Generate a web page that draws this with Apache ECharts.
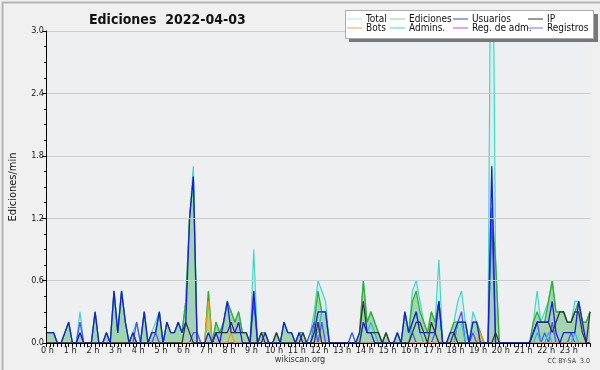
<!DOCTYPE html>
<html><head><meta charset="utf-8">
<script src="https://cdn.jsdelivr.net/npm/echarts@6/dist/echarts.min.js"></script>
<style>html,body{margin:0;padding:0;background:#f0f0f0}#c{width:600px;height:370px}</style>
</head><body><div id="c"></div>
<script>
// 10-minute buckets, values in edits per minute (index 0 = 00:00 ... 144 = 24:00)
const total = [
0.1,0.1,0.1,0,0,0.1, 0.2,0,0,0.3,0,0, 0,0.3,0,0,0.1,0, 0.5,0.1,0.5,0.2,0,0.1,
0.2,0,0.3,0,0.1,0.2, 0.3,0,0.2,0.1,0.1,0.2, 0.1,0.4,1.2,1.7,0.1,0, 0,0.5,0,0.2,0.1,0.2,
0.4,0.3,0.2,0.3,0.1,0.1, 0,0.9,0,0.1,0.1,0, 0,0.1,0,0.2,0.1,0.1, 0,0.1,0.1,0,0.1,0.3,
0.6,0.5,0.4,0,0,0, 0,0,0,0.1,0,0.1, 0.6,0.2,0.3,0.2,0.1,0, 0.1,0,0,0.1,0,0.3,
0.1,0.5,0.6,0.4,0.2,0.1, 0.3,0.2,0.8,0,0,0.1, 0.2,0.4,0.5,0.2,0,0.3, 0.2,0.1,0,0,5.5,0.8,
0,0,0,0,0,0, 0,0,0,0.2,0.5,0.2, 0.3,0.4,0.6,0.3,0.3,0.3, 0.2,0.2,0.4,0.4,0.2,0.2, 0.3];
const ediciones = [
0.1,0.1,0.1,0,0,0.1, 0.2,0,0,0.1,0,0, 0,0.3,0,0,0.1,0, 0.5,0.1,0.5,0.2,0,0.1,
0,0,0.3,0,0.1,0.1, 0.3,0,0.2,0.1,0.1,0.2, 0.1,0.4,1.2,1.6,0,0, 0,0.5,0,0.2,0.1,0.2,
0.4,0.3,0.2,0.3,0.1,0.1, 0,0.5,0,0.1,0.1,0, 0,0.1,0,0.2,0.1,0.1, 0,0.1,0.1,0,0,0.2,
0.5,0.3,0.3,0,0,0, 0,0,0,0,0,0.1, 0.6,0.2,0.3,0.2,0.1,0, 0.1,0,0,0.1,0,0.3,
0.1,0.4,0.5,0.3,0.2,0.1, 0.3,0.2,0.4,0,0,0.1, 0.2,0.2,0.2,0.2,0,0.2, 0.2,0.1,0,0,1.3,0.8,
0,0,0,0,0,0, 0,0,0,0.2,0.3,0.2, 0.2,0.4,0.6,0.3,0.3,0.3, 0.2,0.2,0.3,0.4,0.2,0.2, 0.3];
const usuarios = [
0.1,0.1,0.1,0,0,0.1, 0.2,0,0,0.1,0,0, 0,0.3,0,0,0.1,0, 0.5,0.1,0.5,0.2,0,0.1,
0,0,0.3,0,0.1,0.1, 0.3,0,0.2,0.1,0.1,0.2, 0.1,0.2,1.2,1.6,0,0, 0,0.1,0,0.1,0,0.2,
0.4,0.1,0.1,0.2,0,0, 0,0.5,0,0,0.1,0, 0,0,0,0.2,0.1,0.1, 0,0.1,0,0,0,0.1,
0.3,0.3,0.3,0,0,0, 0,0,0,0,0,0, 0.2,0.1,0.1,0,0,0, 0,0,0,0.1,0,0.3,
0.1,0.2,0.3,0.1,0.1,0.1, 0.1,0.1,0.4,0,0,0.1, 0.1,0.2,0.2,0.2,0,0.2, 0.2,0,0,0,1.7,0,
0,0,0,0,0,0, 0,0,0,0.1,0.2,0.2, 0.2,0.2,0.4,0.1,0,0.1, 0.1,0.1,0.1,0.4,0.2,0, 0];
const ip = [
0,0,0,0,0,0, 0,0,0,0,0,0, 0,0,0,0,0,0, 0,0,0,0,0,0,
0,0,0,0,0,0, 0,0,0,0,0,0, 0,0.2,0.1,0,0,0, 0,0,0,0.1,0.1,0.1,
0.1,0.2,0.1,0.1,0.1,0.1, 0,0,0,0.1,0,0, 0,0.1,0,0,0,0, 0,0,0.1,0,0,0,
0.2,0,0,0,0,0, 0,0,0,0,0,0.1, 0.4,0.1,0.1,0.1,0.1,0, 0.1,0,0,0,0,0,
0,0.1,0.2,0.2,0.1,0, 0.2,0.1,0,0,0,0, 0.1,0,0,0,0,0, 0,0,0,0,0,0.1,
0,0,0,0,0,0, 0,0,0,0.1,0.2,0.2, 0.2,0.2,0.1,0.2,0.3,0.3, 0.2,0.2,0.3,0.3,0.1,0, 0.3];
const bots = [
0,0,0,0,0,0, 0,0,0,0,0,0, 0,0,0,0,0,0, 0,0,0,0,0,0,
0,0,0,0,0,0, 0,0,0,0,0,0, 0,0,0,0,0,0, 0,0.4,0,0,0,0,
0,0.1,0,0,0,0, 0,0,0,0,0,0, 0,0,0,0,0,0, 0,0,0,0,0,0,
0,0,0,0,0,0, 0,0,0,0,0,0, 0,0,0,0,0,0, 0,0,0,0,0,0,
0,0,0,0,0,0, 0,0,0,0,0,0, 0,0,0,0,0,0, 0,0.1,0,0,0,0,
0,0,0,0,0,0, 0,0,0,0,0,0, 0,0,0,0,0,0, 0,0,0,0,0,0, 0];
const admins = [
0.1,0.1,0.1,0,0,0, 0,0,0,0,0,0, 0,0,0,0,0,0, 0,0,0,0,0,0,
0,0,0,0,0,0, 0,0,0,0,0,0, 0,0,0,0,0,0, 0,0,0,0,0,0,
0,0,0,0,0,0, 0,0,0,0,0,0, 0,0,0,0,0,0, 0,0,0,0,0,0.1,
0.1,0.3,0.3,0,0,0, 0,0,0,0,0,0, 0.2,0.1,0.2,0.1,0,0, 0,0,0,0,0,0,
0,0.2,0.3,0.1,0,0, 0,0,0,0,0,0, 0,0.2,0.2,0,0,0, 0,0,0,0,0,0,
0,0,0,0,0,0, 0,0,0,0,0.1,0, 0,0.1,0,0,0,0, 0,0,0.1,0,0,0, 0];
const regAdm = new Array(145).fill(0);
const registros = [
0,0,0,0,0,0, 0,0,0,0.2,0,0, 0,0,0,0,0,0, 0,0,0,0,0,0,
0.2,0,0,0,0,0.1, 0,0,0,0,0,0, 0,0,0,0.1,0.1,0, 0,0,0,0,0,0,
0,0,0,0,0,0, 0,0.4,0,0,0,0, 0,0,0,0,0,0, 0,0,0,0,0.1,0.2,
0,0.2,0,0,0,0, 0,0,0,0.1,0,0, 0,0,0,0,0,0, 0,0,0,0,0,0,
0,0.1,0,0,0,0, 0,0.1,0.4,0,0,0, 0,0.2,0.3,0,0,0.1, 0,0,0,0,1.2,0,
0,0,0,0,0,0, 0,0,0,0.1,0.2,0, 0.1,0,0.2,0,0,0, 0,0.1,0,0,0,0, 0];

const times = [];
for (let i = 0; i <= 144; i++) times.push(Math.floor(i / 6) + ':' + String((i % 6) * 10).padStart(2, '0'));
const yTicks = [0, 0.6, 1.2, 1.8, 2.4, 3.0];

const FONT = 'DejaVu Sans Condensed, DejaVu Sans, sans-serif';
const names = ['Total','Ediciones','Usuarios','IP','Bots','Admins.','Reg. de adm.','Registros'];
const colors = ['#40d8c8','#30b030','#1a1ae6','#333333','#ff9900','#30b8e0','#cc33cc','#5050ff'];
const legendColors = ['#a8e8e0','#90d090','#4040e0','#333333','#f0a040','#50c8e0','#d040e0','#7070f0'];
const dataSets = [total, ediciones, usuarios, ip, bots, admins, regAdm, registros];
const colX = [347, 390, 453, 528];
const rowY = [14, 23];

const legends = names.map((n, k) => ({
  data: [{name: n, itemStyle: {color: legendColors[k]}}],
  left: colX[k % 4], top: rowY[Math.floor(k / 4)],
  padding: 0, itemWidth: 15, itemHeight: 1, icon: 'rect', itemGap: 0,
  selectedMode: false, z: 20,
  textStyle: {fontSize: 10, color: '#111', fontFamily: FONT, padding: [0,0,0,-1]}
}));
const order = [0, 1, 7, 5, 6, 4, 3, 2];
const series = order.map(k => {
  const s = {
    name: names[k], type: 'line', data: dataSets[k], symbol: 'none',
    color: colors[k], lineStyle: {width: 1.3, color: colors[k]}, z: 2 + order.indexOf(k) * 0.01,
    emphasis: {disabled: true}, animation: false
  };
  if (k === 0) { s.areaStyle = {color: 'rgba(64,224,208,0.15)'}; s.lineStyle.width = 1.2; }
  if (k === 1) { s.areaStyle = {color: 'rgba(40,160,40,0.45)'}; }
  return s;
});

const chart = echarts.init(document.getElementById('c'), null, {renderer: 'canvas'});
chart.setOption({
  backgroundColor: '#f0f0f0',
  animation: false,
  title: {text: 'Ediciones  2022-04-03', left: 84, top: 8,
    textStyle: {fontSize: 14, fontWeight: 'bold', color: '#111', fontFamily: FONT}},
  legend: legends,
  grid: {left: 42, right: 10, top: 31, bottom: 27, show: true, backgroundColor: '#eeeff1', borderWidth: 0},
  xAxis: {
    type: 'category', data: times, boundaryGap: false, z: 10,
    axisLine: {lineStyle: {color: '#000', width: 1}},
    axisTick: {show: true, interval: 0, length: 4, lineStyle: {color: '#000'}},
    axisLabel: {interval: 5, fontSize: 9, color: '#222', margin: 3, fontFamily: FONT, padding: [0,0,0,3],
      formatter: (v, i) => i < 144 ? parseInt(v, 10) + ' h' : ''},
    splitLine: {show: false}
  },
  yAxis: {
    type: 'value', min: yTicks[0], max: yTicks[yTicks.length - 1], interval: yTicks[1] - yTicks[0], z: 10,
    name: 'Ediciones/min', nameLocation: 'middle', nameGap: 27, nameRotate: 90,
    nameTextStyle: {fontSize: 11, color: '#111', fontFamily: FONT},
    axisLine: {show: true, lineStyle: {color: '#000', width: 1}},
    axisTick: {show: true, length: 4, lineStyle: {color: '#000'}},
    minorTick: {show: true, splitNumber: 4, length: 2, lineStyle: {color: '#000'}},
    axisLabel: {fontSize: 9, color: '#222', margin: 2, fontFamily: FONT, formatter: v => v.toFixed(1)},
    splitLine: {lineStyle: {color: '#cccccc', width: 1}}
  },
  graphic: [
    {type: 'rect', left: 0, top: 0, shape: {x: 0, y: 0, width: 599, height: 369}, z: -10,
      style: {fill: 'none', stroke: '#b4b4b4', lineWidth: 2}},
    {type: 'rect', left: 349, top: 14, shape: {width: 249, height: 28}, z: 15, style: {fill: '#777'}},
    {type: 'rect', left: 345, top: 10, shape: {width: 248, height: 28}, z: 16,
      style: {fill: '#ffffff', stroke: '#aaaaaa', lineWidth: 1}},
    {type: 'text', left: 'center', top: 355, z: 20,
      style: {text: 'wikiscan.org', fontSize: 9, fill: '#333', fontFamily: FONT}},
    {type: 'text', right: 10, top: 358, z: 20,
      style: {text: 'CC BY-SA  3.0', fontSize: 7, fill: '#444', fontFamily: FONT}}
  ],
  series: series
});
</script></body></html>
